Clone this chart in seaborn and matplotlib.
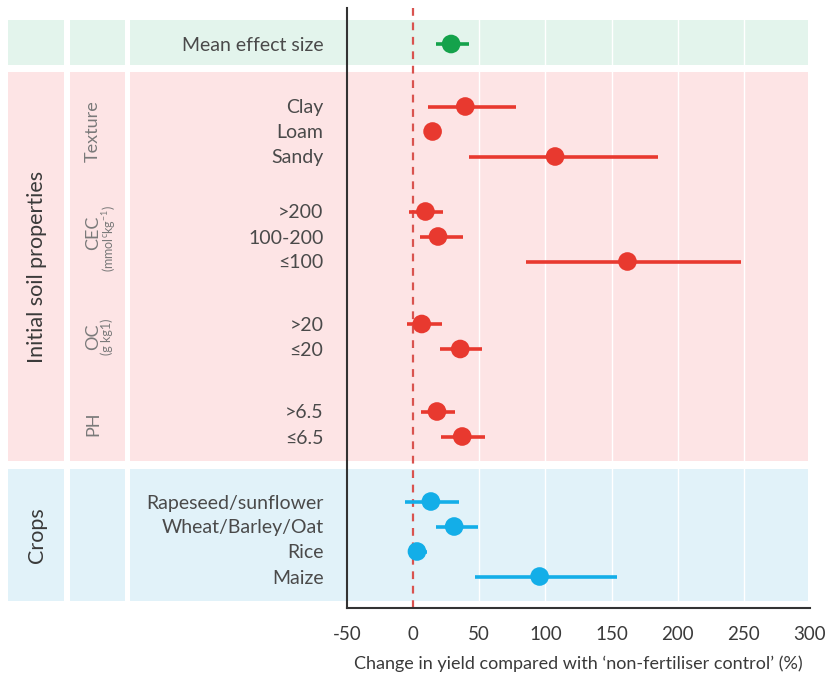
import numpy as np
import pandas as pd
import matplotlib.pyplot as plt
import seaborn as sns
from matplotlib.patches import Rectangle
from matplotlib.transforms import blended_transform_factory

# Data
labels = ["Mean effect size",
          "Clay", "Loam", "Sandy",
          ">200", "100-200", "≤100",
          ">20", "≤20",
          ">6.5", "≤6.5",
          "Rapeseed/sunflower", "Wheat/Barley/Oat", "Rice", "Maize"]
groups = ["Mean",
          "Texture", "Texture", "Texture",
          "CEC", "CEC", "CEC",
          "OC", "OC",
          "PH", "PH",
          "Crops", "Crops", "Crops", "Crops"]
sections = ["Mean"] + ["Soil"] * 10 + ["Crops"] * 4
effect = [28.7, 39.4, 14.7, 107.3, 9.3, 18.8, 162.0, 6.5, 35.6, 18.0, 37.1, 13.4, 31.0, 2.9, 95.6]
lower = [17, 11, 10, 42, -3.5, 5, 85, -5, 20, 6, 21, -6, 17, -1, 47]
upper = [42, 78, 20, 185, 22.5, 38, 248, 22, 52, 31.5, 54, 35, 49, 10.5, 154]
xticks = [-50, 0, 50, 100, 150, 200, 250, 300]

# row layout: one unit per row, extra space between groups
gap_sizes = [1.5, 1.2, 1.5, 1.5, 1.6]
pos = []
y = 0.0
g = 0
for i, grp in enumerate(groups):
    if i > 0:
        y += 1
        if grp != groups[i - 1]:
            y += gap_sizes[g]
            g += 1
    pos.append(y)

df = pd.DataFrame({"label": labels, "group": groups, "section": sections,
                   "effect": effect, "lower": lower, "upper": upper, "pos": pos})

palette = {"Mean": "#14a24b", "Soil": "#e8392f", "Crops": "#13aee8"}
bands = {"Mean": "#e3f4ec", "Soil": "#fde4e5", "Crops": "#e1f2f9"}

sns.set_theme(style="white")
plt.rcParams["font.family"] = ["Lato", "DejaVu Sans"]
plt.rcParams["axes.unicode_minus"] = False
plt.rcParams["mathtext.default"] = "regular"
plt.rcParams["mathtext.fontset"] = "custom"
plt.rcParams["mathtext.rm"] = "Lato"

W, H = 831, 686
fig = plt.figure(figsize=(W / 100, H / 100), dpi=100)
ax = fig.add_axes([347 / W, 1 - 608 / H, (810 - 347) / W, 600 / H])
ax.set_facecolor("none")
ax.set_xlim(-50, 300)
row_px, row0_px = 25, 44
ax.set_ylim((608 - row0_px) / row_px, (8 - row0_px) / row_px)

# background bands (extend left of the axes into the label columns)
trans = blended_transform_factory(fig.transFigure, ax.transData)
cols = [(8, 64), (70, 125), (130, 808)]
first = df.groupby("section")["pos"].min()
last = df.groupby("section")["pos"].max()
pads = {"Mean": (0.96, 0.84), "Soil": (1.38, 0.98), "Crops": (1.3, 0.98)}
for sec in ["Mean", "Soil", "Crops"]:
    y0 = first[sec] - pads[sec][0]
    y1 = last[sec] + pads[sec][1]
    for x0, x1 in cols:
        fig.add_artist(Rectangle((x0 / W, y0), (x1 - x0) / W, y1 - y0, transform=trans,
                                 facecolor=bands[sec], edgecolor="none", zorder=-1))

for gx in [50, 100, 150, 200, 250]:
    ax.axvline(gx, color="white", lw=1.0, zorder=0.5)
ax.axvline(0, color="#d9534f", lw=1.6, ls=(0, (3.5, 3)), zorder=1)

ax.hlines(df["pos"], df["lower"], df["upper"], colors=df["section"].map(palette), lw=2.6, zorder=2)
sns.scatterplot(data=df, x="effect", y="pos", hue="section", palette=palette, s=180,
                edgecolor="none", legend=False, ax=ax, zorder=3)

ax.set_yticks(df["pos"], df["label"])
ax.tick_params(axis="y", length=0, pad=17, labelsize=14, labelcolor="#4a4a4a")
ax.set_xticks(xticks)
ax.tick_params(axis="x", length=8, width=1.0, direction="out", color="#333333",
               labelsize=13.5, labelcolor="#3a3a3a", pad=5)
# the original has no tick marks at -50 and 100
for t, v in zip(ax.xaxis.get_major_ticks(), xticks):
    if v in (-50, 100):
        t.tick1line.set_visible(False)
ax.set_xlabel("Change in yield compared with \u2018non-fertiliser control\u2019 (%)",
              fontsize=13, color="#3a3a3a", labelpad=9)
ax.set_ylabel("")
for s in ["top", "right"]:
    ax.spines[s].set_visible(False)
for s in ["left", "bottom"]:
    ax.spines[s].set_color("#333333")
    ax.spines[s].set_linewidth(1.5)

# section and group labels in the left columns
soil_mid = (first["Soil"] - pads["Soil"][0] + last["Soil"] + pads["Soil"][1]) / 2
crop_mid = (first["Crops"] - pads["Crops"][0] + last["Crops"] + pads["Crops"][1]) / 2
fig.text(37 / W, soil_mid, "Initial soil properties", transform=trans, rotation=90,
         ha="center", va="center", fontsize=15.5, color="#3a3a3a")
fig.text(37 / W, crop_mid, "Crops", transform=trans, rotation=90,
         ha="center", va="center", fontsize=15.5, color="#3a3a3a")

gmid = df.groupby("group")["pos"].mean()
fig.text(93 / W, gmid["Texture"], "Texture", transform=trans, rotation=90,
         ha="center", va="center", fontsize=13, color="#7a7a7a")
fig.text(93 / W, gmid["CEC"] - 0.15, "CEC", transform=trans, rotation=90,
         ha="center", va="center", fontsize=13, color="#7a7a7a")
fig.text(109 / W, gmid["CEC"] + 0.1, "(mmol$^{c}$kg$^{-1}$)", transform=trans, rotation=90,
         ha="center", va="center", fontsize=9, color="#7a7a7a")
fig.text(93 / W, gmid["OC"], "OC", transform=trans, rotation=90,
         ha="center", va="center", fontsize=13, color="#7a7a7a")
fig.text(107 / W, gmid["OC"], "(g kg1)", transform=trans, rotation=90,
         ha="center", va="center", fontsize=9, color="#7a7a7a")
fig.text(93 / W, gmid["PH"], "PH", transform=trans, rotation=90,
         ha="center", va="center", fontsize=13, color="#7a7a7a")

fig.savefig("out.png", dpi=100)
